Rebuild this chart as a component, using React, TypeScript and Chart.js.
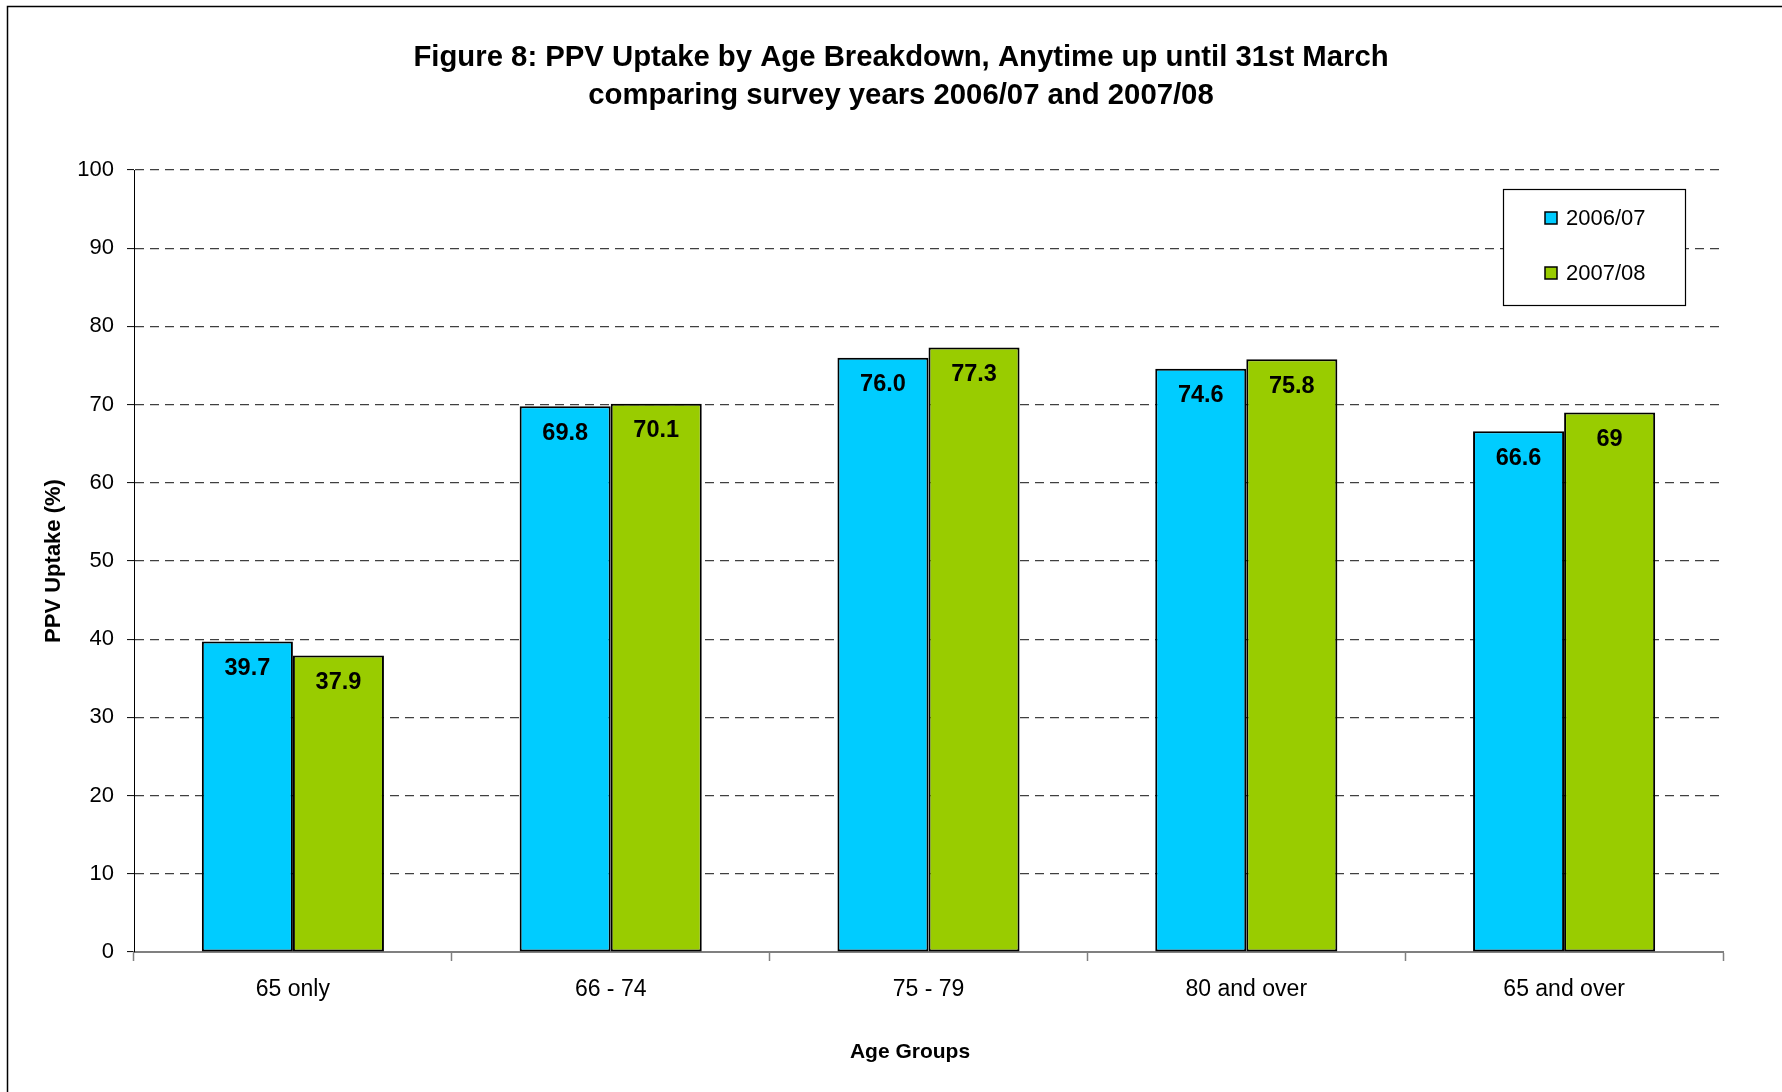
import React, { useEffect, useRef } from "react";
import { Chart, registerables } from "chart.js";

Chart.register(...registerables);

const categories = ["65 only", "66 - 74", "75 - 79", "80 and over", "65 and over"];
const series2006 = [39.7, 69.8, 76.0, 74.6, 66.6];
const series2007 = [37.9, 70.1, 77.3, 75.8, 69];
const labels2006 = ["39.7", "69.8", "76.0", "74.6", "66.6"];
const labels2007 = ["37.9", "70.1", "77.3", "75.8", "69"];
const seriesNames = ["2006/07", "2007/08"];
const titleLines = [
  "Figure 8: PPV Uptake by Age Breakdown, Anytime up until 31st March",
  "comparing survey years 2006/07 and 2007/08",
];
const xTitle = "Age Groups";
const yTitle = "PPV Uptake (%)";

const BLUE = "#00CCFF";
const GREEN = "#99CC00";
const FONT = "'Liberation Sans', Arial, sans-serif";

const decorPlugin = {
  id: "decor",
  beforeDraw(chart: any) {
    const ctx = chart.ctx;
    ctx.save();
    ctx.fillStyle = "#ffffff";
    ctx.fillRect(0, 0, chart.width, chart.height);
    ctx.strokeStyle = "#000000";
    ctx.lineWidth = 1.5;
    ctx.strokeRect(7.5, 6.5, chart.width + 20, chart.height + 20);
    ctx.restore();
  },
  afterDraw(chart: any) {
    const ctx = chart.ctx;
    ctx.save();
    // Title
    ctx.fillStyle = "#000";
    ctx.textAlign = "center";
    ctx.textBaseline = "middle";
    ctx.font = `bold 29.3px ${FONT}`;
    ctx.fillText(titleLines[0], 901, 58);
    ctx.fillText(titleLines[1], 901, 96);
    // X title
    ctx.font = `bold 21px ${FONT}`;
    ctx.fillText(xTitle, 910, 1052);

    // Data labels
    ctx.font = `bold 23.5px ${FONT}`;
    const lbls = [labels2006, labels2007];
    chart.data.datasets.forEach((ds: any, di: number) => {
      const meta = chart.getDatasetMeta(di);
      meta.data.forEach((bar: any, i: number) => {
        ctx.fillText(lbls[di][i], bar.x, bar.y + 27);
      });
    });

    // Legend
    const lx = 1503, ly = 189, lw = 182, lh = 116;
    ctx.fillStyle = "#fff";
    ctx.fillRect(lx, ly, lw, lh);
    ctx.strokeStyle = "#000";
    ctx.lineWidth = 1.2;
    ctx.strokeRect(lx + 0.5, ly + 0.5, lw, lh);
    const items = [
      { name: seriesNames[0], color: BLUE, y: 218 },
      { name: seriesNames[1], color: GREEN, y: 273 },
    ];
    ctx.textAlign = "left";
    ctx.font = `22px ${FONT}`;
    items.forEach((it) => {
      ctx.fillStyle = it.color;
      ctx.fillRect(1545, it.y - 6, 12, 12);
      ctx.strokeStyle = "#000";
      ctx.lineWidth = 1.5;
      ctx.strokeRect(1545, it.y - 6, 12, 12);
      ctx.fillStyle = "#000";
      ctx.fillText(it.name, 1566, it.y + 1);
    });
    ctx.restore();
  },
};

export default function App() {
  const ref = useRef<HTMLCanvasElement | null>(null);
  useEffect(() => {
    if (!ref.current) return;
    const chart = new Chart(ref.current, {
      type: "bar",
      data: {
        labels: categories,
        datasets: [
          {
            label: seriesNames[0],
            data: series2006,
            backgroundColor: BLUE,
            borderColor: "#000",
            borderWidth: 2,
            borderSkipped: false,
            barPercentage: 1,
            categoryPercentage: 0.573,
          },
          {
            label: seriesNames[1],
            data: series2007,
            backgroundColor: GREEN,
            borderColor: "#000",
            borderWidth: 2,
            borderSkipped: false,
            barPercentage: 1,
            categoryPercentage: 0.573,
          },
        ],
      },
      options: {
        responsive: false,
        animation: false,
        devicePixelRatio: 1,
        layout: { padding: { left: 0, right: 59, top: 170, bottom: 0 } },
        plugins: {
          legend: { display: false },
          title: { display: false },
          tooltip: { enabled: false },
        },
        scales: {
          x: {
            afterFit: (s: any) => {
              s.height = 140;
            },
            grid: {
              offset: true,
              drawOnChartArea: false,
              drawTicks: true,
              tickLength: 9,
              tickColor: "#808080",
              tickWidth: 1.5,
            },
            border: { color: "#808080", width: 2 },
            ticks: {
              color: "#000",
              padding: 15,
              font: { family: FONT, size: 23 },
            },
          },
          y: {
            min: 0,
            max: 100,
            afterFit: (s: any) => {
              s.width = 134;
            },
            ticks: {
              stepSize: 10,
              color: "#000",
              padding: 13,
              font: { family: FONT, size: 22 },
            },
            grid: {
              color: "#404040",
              lineWidth: 1.2,
              drawTicks: true,
              tickLength: 7,
              tickColor: "#000",
              tickWidth: 1,
              tickBorderDash: [],
            },
            border: { color: "#000", width: 1, dash: [9, 6] },
            title: {
              display: true,
              text: yTitle,
              color: "#000",
              font: { family: FONT, size: 22, weight: "bold" },
              padding: { top: 41, bottom: 0 },
            },
          },
        },
      },
      plugins: [decorPlugin],
    });
    return () => chart.destroy();
  }, []);
  return (
    <div style={{ position: "absolute", left: 0, top: 0, width: 1782, height: 1092 }}>
      <canvas ref={ref} width={1782} height={1092} style={{ width: 1782, height: 1092 }} />
    </div>
  );
}
